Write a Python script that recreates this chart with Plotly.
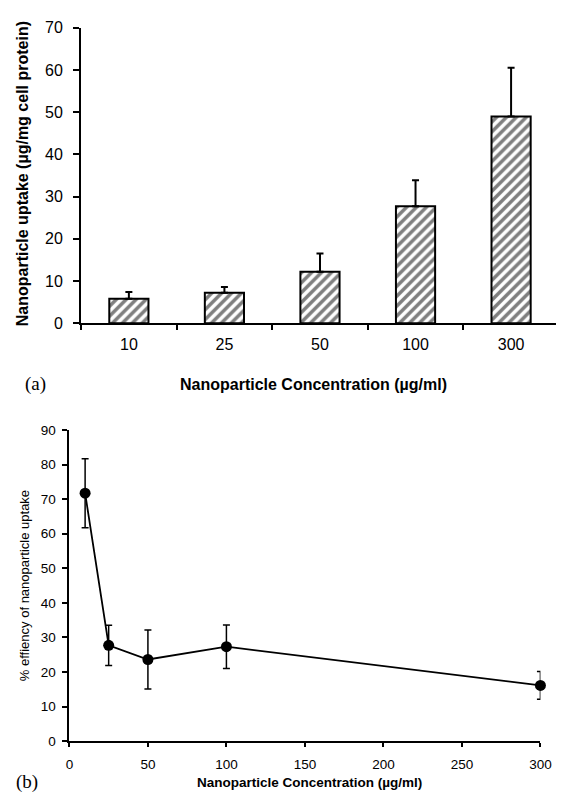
import plotly.graph_objects as go

# ---- data ----
bar_categories = ["10", "25", "50", "100", "300"]
uptake_mean = [5.8, 7.2, 12.2, 27.7, 49.0]
uptake_err = [1.6, 1.4, 4.3, 6.2, 11.5]

conc = [10, 25, 50, 100, 300]
efficiency = [71.7, 27.7, 23.6, 27.3, 16.1]
efficiency_err = [10.0, 5.8, 8.5, 6.3, 4.0]

top_yticks = [0, 10, 20, 30, 40, 50, 60, 70]
bot_yticks = [0, 10, 20, 30, 40, 50, 60, 70, 80, 90]
bot_xticks = [0, 50, 100, 150, 200, 250, 300]

# the page body has an 8px margin, so the figure is drawn 8px to the
# right and 8px lower than the window origin
OFF = 8
W, H = 567 - OFF, 801 - OFF
SANS = "Arial, Liberation Sans, sans-serif"
SERIF = "Times New Roman, Liberation Serif, serif"

fig = go.Figure()

fig.add_trace(go.Bar(
    x=bar_categories, y=uptake_mean, width=0.41,
    marker=dict(color="white", line=dict(color="black", width=2),
                pattern=dict(shape="/", fgcolor="black", bgcolor="white",
                             size=7, solidity=0.5)),
    error_y=dict(type="data", symmetric=False, array=uptake_err,
                 arrayminus=[0] * len(uptake_err),
                 color="black", thickness=2, width=3.5),
    xaxis="x", yaxis="y", showlegend=False))

fig.add_trace(go.Scatter(
    x=conc, y=efficiency, mode="lines+markers",
    line=dict(color="black", width=1.8),
    marker=dict(color="black", size=11),
    error_y=dict(type="data", array=efficiency_err, color="black",
                 thickness=1.5, width=3.5),
    cliponaxis=False,
    xaxis="x2", yaxis="y2", showlegend=False))


def px_x(p):
    return (p - OFF) / W


def px_y(p):
    return 1 - (p - OFF) / H


axis_common = dict(showline=True, linecolor="black", showgrid=False,
                   zeroline=False, ticks="outside", tickcolor="black")

fig.update_layout(
    width=W, height=H, margin=dict(l=0, r=0, t=0, b=0),
    paper_bgcolor="white", plot_bgcolor="white",
    font=dict(family=SANS, color="black"),
    xaxis=dict(**axis_common, domain=[px_x(79), 1.0], anchor="y",
               type="category", tickson="boundaries",
               range=[-0.5, 4.47], linewidth=2, ticklen=5, tickwidth=2,
               tickfont=dict(size=16, family=SANS), ticklabelstandoff=6),
    yaxis=dict(**axis_common, domain=[px_y(322), px_y(20)], anchor="x",
               range=[0, 70], tickvals=top_yticks, linewidth=2,
               ticklen=6, tickwidth=2, tickfont=dict(size=16, family=SANS),
               ticklabelstandoff=7),
    xaxis2=dict(**axis_common, domain=[px_x(67), px_x(551)], anchor="y2",
                range=[0, 300], tickvals=bot_xticks, linewidth=2,
                ticklen=4, tickwidth=2, tickfont=dict(size=13.5, family=SANS),
                ticklabelstandoff=6),
    yaxis2=dict(**axis_common, domain=[px_y(749), px_y(431)], anchor="x2",
                range=[0, 90], tickvals=bot_yticks, linewidth=2,
                ticklen=5, tickwidth=2, tickfont=dict(size=13.5, family=SANS),
                ticklabelstandoff=4),
    annotations=[
        dict(text="<b>Nanoparticle uptake (µg/mg cell protein)</b>",
             textangle=-90, x=px_x(19), y=px_y(169), xref="paper",
             yref="paper", xanchor="center", yanchor="middle",
             showarrow=False, font=dict(size=16, family=SANS)),
        dict(text="<b>Nanoparticle Concentration (µg/ml)</b>",
             x=px_x(318), y=px_y(385), xref="paper", yref="paper",
             xanchor="center", yanchor="middle", showarrow=False,
             font=dict(size=16, family=SANS)),
        dict(text="(a)", x=px_x(32), y=px_y(384), xref="paper",
             yref="paper", xanchor="center", yanchor="middle",
             showarrow=False, font=dict(size=19, family=SERIF)),
        dict(text="% effiency of nanoparticle uptake", textangle=-90,
             x=px_x(21), y=px_y(590), xref="paper", yref="paper",
             xanchor="center", yanchor="middle", showarrow=False,
             font=dict(size=13, family=SANS)),
        dict(text="<b>Nanoparticle Concentration (µg/ml)</b>",
             x=px_x(314), y=px_y(791), xref="paper", yref="paper",
             xanchor="center", yanchor="middle", showarrow=False,
             font=dict(size=13.5, family=SANS)),
        dict(text="(b)", x=px_x(23), y=px_y(791), xref="paper",
             yref="paper", xanchor="center", yanchor="middle",
             showarrow=False, font=dict(size=19, family=SERIF)),
    ],
)

fig.write_html("out.html")
